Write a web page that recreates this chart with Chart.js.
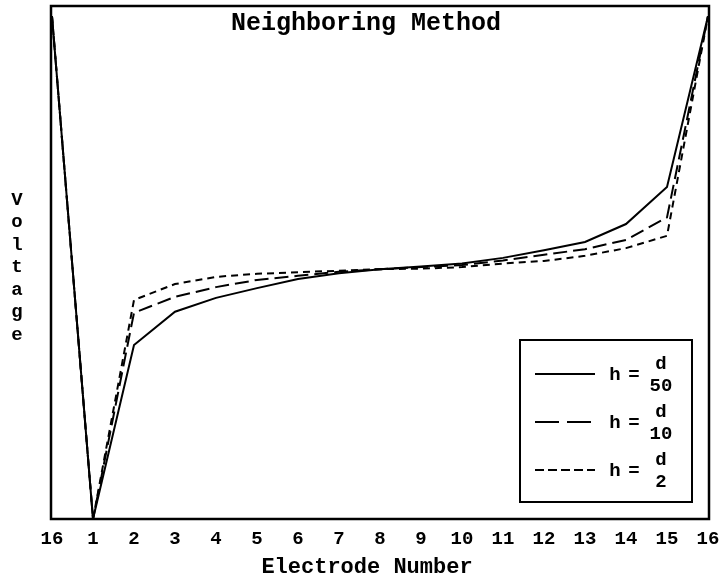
<!DOCTYPE html>
<html>
<head>
<meta charset="utf-8">
<script src="https://cdn.jsdelivr.net/npm/chart.js@4/dist/chart.umd.min.js"></script>
<style>
  html, body { margin: 0; padding: 0; background: #fff; }
  canvas { display: block; }
</style>
</head>
<body>
<canvas id="c" width="720" height="581"></canvas>
<script>
// ---- data (voltage in relative units) ----
const electrodeLabels = ['16','1','2','3','4','5','6','7','8','9','10','11','12','13','14','15','16'];
const hD50 = [98, 0, 33.9, 40.4, 43.1, 45.0, 46.8, 47.9, 48.7, 49.2, 49.8, 50.9, 52.4, 54.0, 57.5, 64.7, 98];
const hD10 = [98, 0, 40.2, 43.3, 45.2, 46.6, 47.4, 48.2, 48.7, 49.1, 49.5, 50.4, 51.5, 52.6, 54.4, 58.8, 98];
const hD2  = [98, 0, 42.7, 45.8, 47.2, 47.8, 48.1, 48.4, 48.7, 48.8, 49.1, 49.8, 50.3, 51.3, 52.8, 55.2, 98];
const titleText = 'Neighboring Method';
const xTitle = 'Electrode Number';
const yTitle = 'Voltage';
const legendItems = [
  { h: 'h', den: '50', dash: [] },
  { h: 'h', den: '10', dash: [24, 8] },
  { h: 'h', den: '2',  dash: [9, 4] }
];

const FONT = '"Liberation Mono", "DejaVu Sans Mono", monospace';

const framePlugin = {
  id: 'frame',
  afterDatasetsDraw(chart) {
    const { ctx, chartArea: a } = chart;
    ctx.save();
    ctx.strokeStyle = '#000';
    ctx.lineWidth = 2.5;
    ctx.strokeRect(a.left - 1, a.top, a.right - a.left + 2, a.bottom - a.top);
    ctx.restore();
  }
};

const textPlugin = {
  id: 'texts',
  afterDraw(chart) {
    const { ctx } = chart;
    ctx.save();
    ctx.fillStyle = '#000';
    // title
    ctx.font = 'bold 25px ' + FONT;
    ctx.textAlign = 'center';
    ctx.textBaseline = 'middle';
    ctx.fillText(titleText, 366, 24);
    // x axis title
    ctx.font = 'bold 22px ' + FONT;
    ctx.fillText(xTitle, 367, 567);
    // vertical y label
    ctx.font = 'bold 19px ' + FONT;
    for (let i = 0; i < yTitle.length; i++) {
      ctx.fillText(yTitle[i], 17, 200 + i * 22.5);
    }
    // legend box
    const bx = 520, by = 340, bw = 172, bh = 162;
    ctx.fillStyle = '#fff';
    ctx.fillRect(bx, by, bw, bh);
    ctx.strokeStyle = '#000';
    ctx.lineWidth = 2;
    ctx.strokeRect(bx, by, bw, bh);
    const rows = [374, 422, 470];
    legendItems.forEach((it, i) => {
      const y = rows[i];
      ctx.beginPath();
      ctx.setLineDash(it.dash);
      ctx.lineWidth = 2;
      ctx.moveTo(535, y);
      ctx.lineTo(595, y);
      ctx.stroke();
      ctx.setLineDash([]);
      ctx.fillStyle = '#000';
      ctx.font = 'bold 19px ' + FONT;
      ctx.textAlign = 'center';
      ctx.textBaseline = 'middle';
      ctx.fillText(it.h, 615, y + 1);
      ctx.fillText('=', 634, y + 1);
      ctx.fillText('d', 661, y - 10);
      ctx.fillText(it.den, 661, y + 12);
    });
    ctx.restore();
  }
};

new Chart(document.getElementById('c'), {
  type: 'line',
  data: {
    labels: electrodeLabels,
    datasets: [
      { label: 'h = d/50', data: hD50, borderColor: '#000', borderWidth: 2, borderDash: [], pointRadius: 0, tension: 0, fill: false },
      { label: 'h = d/10', data: hD10, borderColor: '#000', borderWidth: 2, borderDash: [14, 6], pointRadius: 0, tension: 0, fill: false },
      { label: 'h = d/2',  data: hD2,  borderColor: '#000', borderWidth: 2, borderDash: [7, 5], pointRadius: 0, tension: 0, fill: false }
    ]
  },
  options: {
    responsive: false,
    animation: false,
    devicePixelRatio: 1,
    layout: { padding: { left: 52, right: 12, top: 6, bottom: 0 } },
    plugins: { legend: { display: false }, tooltip: { enabled: false }, title: { display: false } },
    scales: {
      x: {
        type: 'category',
        offset: false,
        grid: { display: false, drawTicks: false },
        border: { display: false },
        ticks: { color: '#000', font: { family: FONT, size: 19, weight: 'bold' }, padding: 9, maxRotation: 0, autoSkip: false },
        title: { display: false },
        afterFit(scale) { scale.height = 62; scale.paddingLeft = 0; scale.paddingRight = 0; }
      },
      y: {
        display: false,
        min: 0,
        max: 100
      }
    }
  },
  plugins: [framePlugin, textPlugin]
});
</script>
</body>
</html>
